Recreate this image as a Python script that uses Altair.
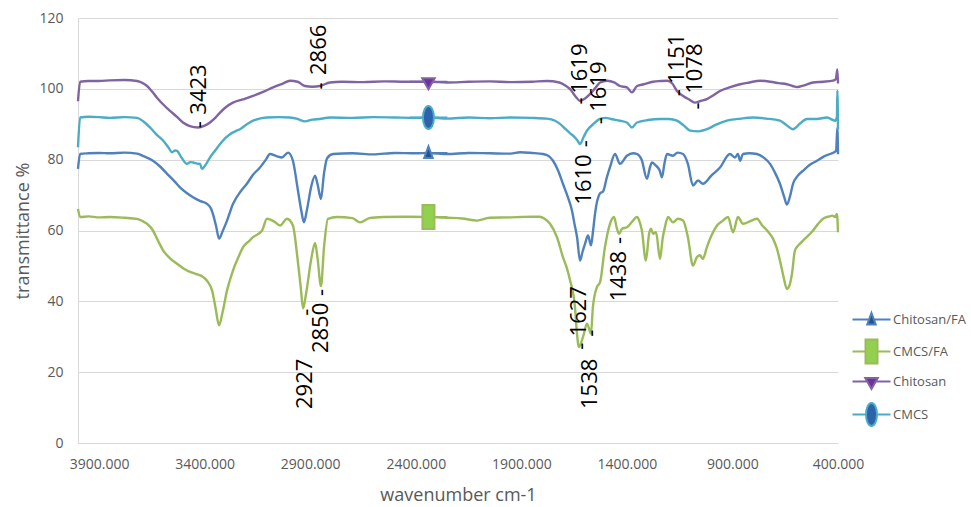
import altair as alt
import pandas as pd

# FTIR spectra: wavenumber (cm-1) and transmittance (%) per sample
wn_chitosan_fa = [4000, 3990, 3950, 3900, 3850, 3780, 3720, 3690, 3645, 3610, 3578, 3545, 3517, 3485,
                  3455, 3420, 3389, 3370, 3361, 3345, 3332, 3315, 3294, 3266, 3230, 3200, 3170, 3138,
                  3110, 3091, 3060, 3034, 3005, 2982, 2960, 2942, 2930, 2915, 2895, 2877, 2865, 2849,
                  2835, 2820, 2792, 2700, 2600, 2500, 2400, 2340, 2250, 2150, 2050, 1950, 1906, 1850,
                  1797, 1770, 1750, 1725, 1703, 1680, 1660, 1648, 1636, 1622, 1610, 1598, 1584, 1570,
                  1560, 1551, 1527, 1513, 1495, 1480, 1456, 1433, 1400, 1370, 1352, 1330, 1305, 1290,
                  1281, 1262, 1245, 1234, 1222, 1210, 1182, 1160, 1134, 1111, 1087, 1063, 1040, 1000,
                  959, 912, 888, 874, 864, 850, 820, 784, 750, 722, 700, 675, 655, 642, 628, 613, 590,
                  565, 535, 500, 470, 438, 409, 403, 400]
t_chitosan_fa = [77.4, 81.6, 81.8, 81.9, 81.8, 82.0, 81.7, 81.0, 79.7, 78.0, 76.0, 74.0, 72.2, 70.6,
                 69.4, 68.3, 67.5, 66.2, 64.7, 61.0, 57.7, 59.8, 62.8, 67.5, 71.0, 73.2, 75.8, 77.8,
                 80.0, 81.6, 81.0, 80.6, 82.0, 79.7, 72.0, 65.5, 62.3, 66.0, 72.5, 75.5, 73.0, 68.9,
                 76.0, 80.4, 81.6, 81.8, 81.5, 81.9, 81.8, 81.9, 81.6, 81.9, 81.8, 81.7, 82.1, 81.9,
                 81.6, 81.0, 79.7, 76.8, 73.2, 69.5, 65.6, 61.8, 58.1, 51.5, 54.0, 56.3, 58.6, 55.8,
                 60.0, 64.7, 70.5, 71.0, 75.0, 77.9, 81.6, 78.8, 81.1, 81.8, 81.6, 80.0, 74.6, 78.0,
                 79.2, 78.3, 77.0, 75.0, 79.0, 81.6, 81.1, 82.0, 81.6, 78.8, 72.7, 74.1, 73.2, 75.5,
                 77.8, 81.6, 80.6, 81.6, 79.7, 81.6, 81.8, 81.6, 80.5, 78.8, 76.5, 73.2, 69.5, 67.3,
                 69.5, 73.2, 75.5, 76.9, 78.5, 79.7, 80.8, 81.6, 82.5, 89.0, 81.5]

wn_cmcs_fa = [4000, 3990, 3950, 3900, 3850, 3780, 3720, 3690, 3673, 3645, 3620, 3597, 3565, 3531,
              3500, 3469, 3440, 3408, 3385, 3365, 3348, 3332, 3315, 3294, 3266, 3240, 3218, 3190,
              3171, 3128, 3105, 3070, 3043, 3010, 2982, 2960, 2945, 2934, 2920, 2895, 2877, 2865,
              2849, 2835, 2816, 2773, 2700, 2664, 2620, 2555, 2450, 2340, 2250, 2180, 2110, 2050,
              1950, 1906, 1850, 1812, 1790, 1764, 1731, 1703, 1685, 1669, 1646, 1638, 1627, 1608,
              1589, 1570, 1561, 1542, 1527, 1504, 1480, 1461, 1447, 1437, 1423, 1400, 1375, 1352,
              1340, 1329, 1310, 1295, 1286, 1276, 1262, 1243, 1230, 1220, 1205, 1182, 1158, 1134,
              1111, 1087, 1068, 1054, 1040, 1021, 1000, 973, 945, 921, 897, 874, 850, 810, 784, 760,
              736, 708, 690, 675, 660, 642, 630, 618, 604, 585, 565, 540, 518, 495, 471, 440, 428,
              414, 405, 400]
t_cmcs_fa = [66.1, 63.8, 64.0, 63.7, 63.8, 63.6, 63.3, 62.5, 61.9, 60.0, 57.0, 54.4, 52.2, 50.6,
             49.3, 48.3, 47.7, 46.9, 45.5, 43.1, 38.0, 33.2, 37.0, 43.1, 48.7, 52.5, 55.3, 57.0,
             58.1, 60.0, 63.3, 62.5, 61.4, 63.3, 61.4, 52.0, 44.0, 38.0, 42.0, 52.0, 56.5, 52.0,
             44.3, 55.0, 63.3, 63.8, 63.5, 62.3, 63.5, 63.8, 63.9, 63.8, 63.6, 63.4, 62.8, 63.6,
             63.7, 63.8, 63.9, 63.9, 63.3, 61.9, 58.1, 52.5, 49.5, 45.9, 38.4, 32.0, 27.1, 29.9,
             33.7, 30.9, 38.4, 44.0, 45.4, 55.3, 61.9, 63.8, 60.5, 59.1, 60.5, 60.9, 62.5, 63.8,
             62.5, 60.0, 51.5, 59.0, 60.5, 59.1, 59.5, 52.0, 58.0, 60.9, 63.8, 62.3, 63.3, 62.8,
             58.1, 50.1, 52.5, 53.0, 52.0, 55.3, 58.5, 61.4, 62.8, 63.8, 59.5, 63.8, 61.9, 62.8,
             63.3, 61.5, 60.0, 57.7, 55.0, 51.5, 47.5, 43.5, 44.5, 47.8, 54.4, 56.0, 57.2, 58.6,
             60.0, 61.8, 63.3, 64.0, 64.2, 63.8, 64.7, 59.5]

wn_chitosan = [4000, 3990, 3950, 3900, 3850, 3780, 3720, 3690, 3673, 3650, 3626, 3595, 3564, 3530,
               3503, 3470, 3432, 3400, 3375, 3350, 3327, 3300, 3266, 3220, 3171, 3120, 3076, 3030,
               2996, 2960, 2925, 2890, 2854, 2806, 2750, 2650, 2550, 2450, 2340, 2250, 2150, 2050,
               1950, 1850, 1780, 1720, 1690, 1669, 1645, 1622, 1600, 1575, 1550, 1527, 1494, 1460,
               1433, 1400, 1376, 1352, 1320, 1276, 1240, 1210, 1185, 1163, 1134, 1105, 1078, 1050,
               1021, 990, 959, 910, 864, 820, 769, 720, 680, 642, 615, 594, 560, 518, 470, 424, 410,
               403, 400]
t_chitosan = [96.5, 102.0, 102.2, 102.2, 102.4, 102.5, 102.2, 101.5, 100.8, 99.3, 97.5, 95.5, 93.8,
              92.0, 90.5, 89.5, 89.1, 89.6, 90.5, 91.8, 93.3, 94.8, 96.1, 97.0, 98.0, 99.2, 100.4,
              101.5, 102.3, 102.0, 100.8, 100.6, 100.8, 101.8, 102.0, 101.9, 102.1, 102.0, 102.0,
              101.8, 102.0, 102.1, 101.9, 102.0, 102.2, 101.8, 100.9, 99.9, 98.0, 96.6, 97.2, 98.5,
              100.2, 101.8, 102.3, 101.8, 100.8, 100.4, 99.0, 100.8, 101.3, 102.0, 102.2, 102.3,
              101.5, 99.4, 98.0, 97.0, 96.1, 96.6, 97.1, 98.2, 99.4, 100.5, 101.3, 101.8, 102.3,
              102.0, 101.6, 101.3, 100.8, 100.5, 101.0, 101.8, 102.0, 102.3, 102.8, 105.5, 101.5]

wn_cmcs = [4000, 3990, 3950, 3900, 3850, 3780, 3720, 3690, 3659, 3630, 3597, 3570, 3555, 3540, 3531,
           3510, 3484, 3468, 3455, 3435, 3422, 3413, 3395, 3375, 3350, 3327, 3300, 3280, 3255, 3233,
           3200, 3171, 3140, 3105, 3050, 2996, 2960, 2925, 2890, 2854, 2806, 2700, 2600, 2500, 2400,
           2340, 2250, 2150, 2050, 1950, 1850, 1780, 1740, 1717, 1690, 1670, 1655, 1635, 1622, 1605,
           1589, 1560, 1527, 1500, 1470, 1433, 1400, 1376, 1352, 1300, 1243, 1200, 1163, 1130, 1101,
           1060, 1021, 980, 926, 860, 802, 740, 675, 645, 613, 580, 547, 500, 452, 414, 405, 403, 400]
t_cmcs = [83.5, 91.9, 92.1, 92.0, 91.8, 92.0, 91.8, 90.8, 89.1, 87.2, 85.4, 83.3, 82.1, 82.6, 82.5,
          80.6, 78.8, 79.3, 79.2, 78.9, 78.8, 77.4, 78.6, 80.6, 82.6, 84.4, 86.2, 87.2, 88.0, 88.6,
          90.0, 91.0, 91.6, 91.9, 92.0, 91.9, 91.5, 90.8, 91.3, 91.5, 91.9, 91.8, 92.0, 91.9, 91.8,
          91.9, 91.6, 91.9, 91.7, 91.9, 91.8, 91.6, 91.0, 90.1, 88.6, 87.5, 86.8, 85.5, 84.4, 86.4,
          88.2, 90.0, 91.5, 91.8, 91.4, 91.0, 90.5, 89.1, 90.5, 91.2, 91.5, 91.5, 91.0, 89.6, 88.2,
          88.0, 88.6, 89.8, 91.0, 91.6, 91.9, 91.6, 91.0, 89.8, 88.6, 90.2, 91.5, 91.5, 91.9, 91.0,
          92.0, 99.5, 88.5]

series_names = ["Chitosan/FA", "CMCS/FA", "Chitosan", "CMCS"]
line_colors = ["#4F81BD", "#9BBB59", "#8064A2", "#4BACC6"]
marker_colors = ["#24528F", "#92D050", "#7030A0", "#2E62AA"]
# legend/marker glyphs: a short line stub with the series marker in the middle
marker_paths = [
    "M-3.8,0H-0.45M0.45,0H3.8M0,-1.3L0.85,1L-0.85,1Z",
    "M-3.8,0H-1.2M1.2,0H3.8M-1.2,-2.4H1.2V2.4H-1.2Z",
    "M-3.8,0H-0.85M0.85,0H3.8M-1.25,-0.7H1.25L0,1.5Z",
    "M-3.8,0H-1.1M1.1,0H3.8M0,-2.3A1.1,2.3,0,1,1,0,2.3A1.1,2.3,0,1,1,0,-2.3Z",
]
marker_wn = 2340

# peak annotations (numbers) and their small tick marks
ann_text = ["3423", "2866", "2927", "2850", "1619", "1619", "1610", "1151", "1078", "1627", "1538", "1438"]
ann_wn = [3427, 2858, 2925, 2849, 1622, 1532, 1603, 1163, 1077, 1627, 1575, 1437]
ann_t = [92.7, 103.9, 9.6, 25.4, 98.6, 93.5, 67.3, 101.4, 98.6, 30.1, 9.6, 40.0]
tick_wn = [3427, 2854, 2920, 2849, 1622, 1527, 1598, 1158, 1068, 1617, 1570, 1437]
tick_t = [89.9, 100.8, 36.9, 42.5, 96.6, 91.0, 84.5, 98.9, 95.2, 27.3, 31.0, 57.2]

spectra_src = [
    ("Chitosan/FA", wn_chitosan_fa, t_chitosan_fa),
    ("CMCS/FA", wn_cmcs_fa, t_cmcs_fa),
    ("Chitosan", wn_chitosan, t_chitosan),
    ("CMCS", wn_cmcs, t_cmcs),
]
rows = []
for name, wns, ts in spectra_src:
    for w, t in zip(wns, ts):
        rows.append({"series": name, "wavenumber": w, "T": t})
spectra = pd.DataFrame(rows)
markers = spectra[spectra["wavenumber"] == marker_wn]
labels = pd.DataFrame({"wavenumber": ann_wn, "T": ann_t, "text": ann_text})
ticks = pd.DataFrame({"wavenumber": tick_wn, "T": tick_t, "text": ["-"] * len(tick_wn)})

FONT = "Open Sans"
GREY = "#595959"

x_enc = alt.X(
    "wavenumber:Q",
    scale=alt.Scale(domain=[400, 4000], reverse=True, nice=False, zero=False),
    axis=alt.Axis(
        values=[3900, 3400, 2900, 2400, 1900, 1400, 900, 400],
        format=".3f",
        title="wavenumber cm-1",
        grid=False,
        ticks=False,
        labelFlush=False,
        labelOverlap=False,
        labelPadding=14,
        labelFont=FONT,
        labelFontSize=14,
        labelColor=GREY,
        domainColor="#D9D9D9",
        titleFont=FONT,
        titleFontSize=18,
        titleFontWeight="normal",
        titleColor=GREY,
        titleY=43,
    ),
)
y_enc = alt.Y(
    "T:Q",
    scale=alt.Scale(domain=[0, 120], nice=False),
    axis=alt.Axis(
        values=[0, 20, 40, 60, 80, 100, 120],
        title="transmittance %",
        grid=True,
        gridColor="#D9D9D9",
        ticks=False,
        labelPadding=15,
        labelFont=FONT,
        labelFontSize=14,
        labelColor=GREY,
        domainColor="#D9D9D9",
        titleFont=FONT,
        titleFontSize=18,
        titleFontWeight="normal",
        titleColor=GREY,
        titleX=-46,
    ),
)

legend = alt.Legend(
    title=None,
    orient="none",
    legendX=787,
    legendY=295,
    symbolSize=100,
    symbolStrokeWidth=2,
    labelOffset=15,
    rowPadding=6,
    labelFont=FONT,
    labelFontSize=13,
    labelColor=GREY,
)

stroke_scale = alt.Scale(domain=series_names, range=line_colors)

lines = alt.Chart(spectra).mark_line(strokeWidth=2.4, interpolate="monotone").encode(
    x=x_enc,
    y=y_enc,
    stroke=alt.Stroke("series:N", scale=stroke_scale, legend=legend),
)

points = alt.Chart(markers).mark_point(filled=True, size=100, strokeWidth=2, opacity=1).encode(
    x=x_enc,
    y=y_enc,
    fill=alt.Fill("series:N", scale=alt.Scale(domain=series_names, range=marker_colors), legend=legend),
    stroke=alt.Stroke("series:N", scale=stroke_scale, legend=legend),
    shape=alt.Shape("series:N", scale=alt.Scale(domain=series_names, range=marker_paths), legend=legend),
)

label_text = alt.Chart(labels).mark_text(
    angle=270, align="left", baseline="middle", font=FONT, fontSize=22, color="black"
).encode(x=x_enc, y=y_enc, text="text:N")

tick_text = alt.Chart(ticks).mark_text(
    angle=270, align="center", baseline="middle", font=FONT, fontSize=22, color="black"
).encode(x=x_enc, y=y_enc, text="text:N")

chart = alt.layer(lines, points, label_text, tick_text).properties(
    width=760,
    height=425,
    padding={"left": 78, "top": 18, "right": 133, "bottom": 64},
    autosize=alt.AutoSizeParams(type="none"),
    background="white",
).configure_view(stroke=None)

chart.save("out.html", embed_options={"renderer": "svg", "actions": False})
